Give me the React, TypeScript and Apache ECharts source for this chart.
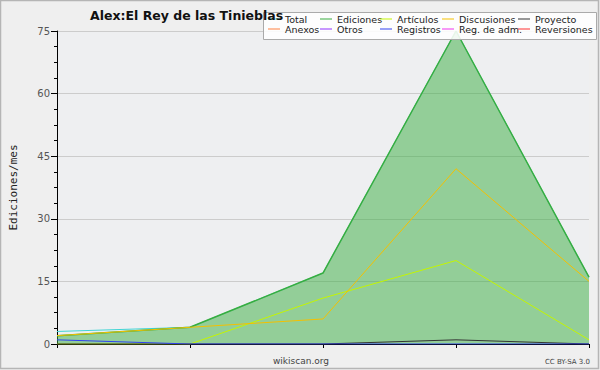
import React, { useEffect, useRef } from "react";
import * as echarts from "echarts";

const months = ["m1", "m2", "m3", "m4", "m5"];
const total = [3, 4, 17, 75, 16];
const ediciones = [2, 4, 17, 75, 16];
const articulos = [0, 0, 11, 20, 1];
const discusiones = [2, 4, 6, 42, 15];
const proyecto = [0, 0, 0, 1, 0];
const anexos: number[] = [];
const otros: number[] = [];
const registros = [1, 0, 0, 0, 0];
const regAdm: number[] = [];
const reversiones: number[] = [];
const yTicks = [0, 15, 30, 45, 60, 75];

const seriesDefs = [
  { name: "Total", data: total, color: "#40d4d4" },
  { name: "Ediciones", data: ediciones, color: "#38ad3f", area: true },
  { name: "Artículos", data: articulos, color: "#c4f500" },
  { name: "Discusiones", data: discusiones, color: "#f4c000" },
  { name: "Proyecto", data: proyecto, color: "#333333" },
  { name: "Anexos", data: anexos, color: "#ff8040" },
  { name: "Otros", data: otros, color: "#9030ff" },
  { name: "Registros", data: registros, color: "#3040f0" },
  { name: "Reg. de adm.", data: regAdm, color: "#ee33ee" },
  { name: "Reversiones", data: reversiones, color: "#ff3030" },
];

const legendCols = [
  { left: 268, items: ["Total", "Anexos"] },
  { left: 320, items: ["Ediciones", "Otros"] },
  { left: 380, items: ["Artículos", "Registros"] },
  { left: 442, items: ["Discusiones", "Reg. de adm."] },
  { left: 518, items: ["Proyecto", "Reversiones"] },
];

export default function App() {
  const ref = useRef<HTMLDivElement>(null);
  useEffect(() => {
    const chart = echarts.init(ref.current!, null, { renderer: "svg" });
    chart.setOption({
      animation: false,
      backgroundColor: "#efefef",
      title: {
        text: "Alex:El Rey de las Tinieblas",
        left: 85,
        top: 4,
        textStyle: { fontFamily: "DejaVu Sans", fontSize: 12.5, fontWeight: "bold", color: "#111" },
      },
      legend: legendCols.map((c) => ({
        data: c.items,
        orient: "vertical",
        left: c.left,
        top: 14,
        padding: 0,
        itemGap: 0,
        itemWidth: 12,
        itemHeight: 1,
        icon: "rect",
        selectedMode: false,
        z: 5,
        textStyle: { fontFamily: "DejaVu Sans", fontSize: 9.5, color: "#222", lineHeight: 10 },
      })),
      graphic: [
        {
          type: "rect",
          z: 3,
          shape: { x: 263.5, y: 12.5, width: 333, height: 27 },
          style: { fill: "rgba(255,255,255,0.88)", stroke: "#aaaaaa", lineWidth: 1 },
        },
        {
          type: "rect",
          z: 0,
          shape: { x: 0.5, y: 0.5, width: 598, height: 368 },
          style: { fill: "none", stroke: "#b5b5b5", lineWidth: 1.5 },
        },
        {
          type: "text",
          x: 301,
          y: 361,
          style: { text: "wikiscan.org", fontFamily: "DejaVu Sans", fontSize: 9, fill: "#444", align: "center", verticalAlign: "middle" },
        },
        {
          type: "text",
          x: 590,
          y: 362,
          style: { text: "CC BY-SA 3.0", fontFamily: "DejaVu Sans", fontSize: 7, fill: "#444", align: "right", verticalAlign: "middle" },
        },
      ],
      grid: { left: 47, right: 11, top: 31, bottom: 26, show: true, backgroundColor: "#eeeff1", borderWidth: 0 },
      xAxis: {
        type: "category",
        data: months,
        boundaryGap: false,
        axisLine: { lineStyle: { color: "#000", width: 1 } },
        axisTick: { show: true, length: 4, lineStyle: { color: "#000" } },
        axisLabel: { show: false },
        splitLine: { show: false },
      },
      yAxis: {
        type: "value",
        min: yTicks[0],
        max: yTicks[yTicks.length - 1],
        interval: 15,
        name: "Ediciones/mes",
        nameLocation: "middle",
        nameGap: 38,
        nameTextStyle: { fontFamily: "DejaVu Sans Mono", fontSize: 11, color: "#222" },
        axisLine: { show: true, lineStyle: { color: "#000", width: 1 } },
        axisTick: { show: true, length: 6, lineStyle: { color: "#000" } },
        minorTick: { show: true, splitNumber: 4, length: 3, lineStyle: { color: "#000", width: 1 } },
        minorSplitLine: { show: false },
        axisLabel: { fontFamily: "DejaVu Sans", fontSize: 10, color: "#555", margin: 7 },
        splitLine: { show: true, lineStyle: { color: "#cccccc", width: 1 } },
      },
      series: seriesDefs.map((s) => ({
        name: s.name,
        type: "line",
        data: s.data,
        color: s.color,
        showSymbol: false,
        symbol: "none",
        lineStyle: { width: s.area ? 1.5 : 1, color: s.color },
        areaStyle: s.area ? { color: s.color, opacity: 0.5 } : undefined,
        z: 2,
      })),
    });
    return () => chart.dispose();
  }, []);
  return (
    <div
      ref={ref}
      style={{ position: "fixed", left: 0, top: 0, width: 600, height: 370 }}
    />
  );
}
